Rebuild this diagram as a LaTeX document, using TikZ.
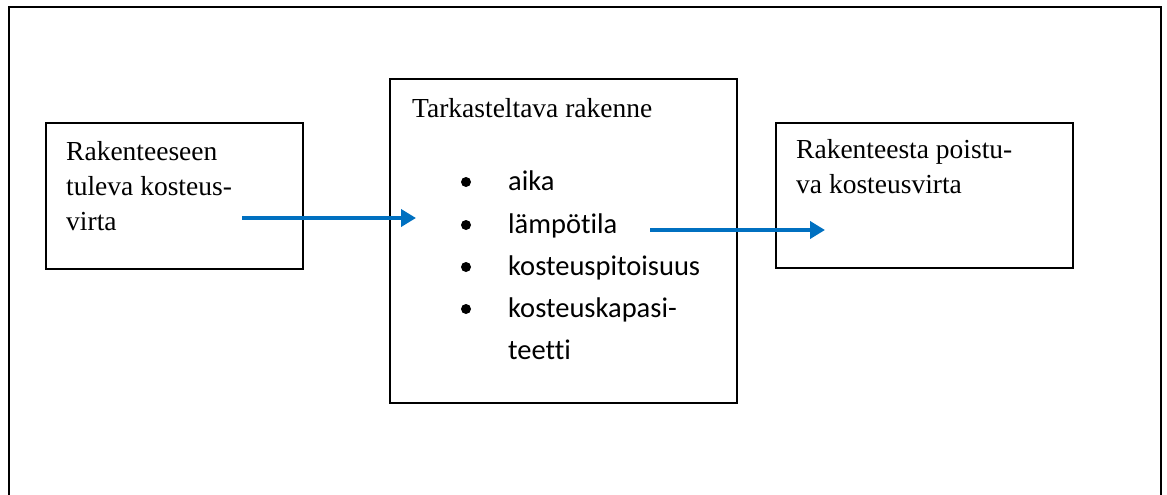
\documentclass[tikz,border=0pt]{standalone}
\usepackage{fontspec}
\newfontfamily\boxfont{Liberation Serif}
\newfontfamily\bulletfont[Ligatures=NoCommon]{Carlito}
\usetikzlibrary{arrows.meta}
\definecolor{flowblue}{HTML}{0070C0}
\tikzset{
  frameline/.style={draw=black, line width=2.2pt},
  boxline/.style={draw=black, line width=1.8pt},
  serif/.style={anchor=base west, inner sep=0pt, font=\boxfont\fontsize{27.5}{34}\selectfont},
  item/.style={anchor=base west, inner sep=0pt, font=\bulletfont\fontsize{28.5}{42}\selectfont},
  dot/.style={fill=black, circle, inner sep=0pt, minimum size=10pt},
  flow/.style={draw=flowblue, line width=4pt, -{Triangle[length=15pt, width=17pt]}},
}
\begin{document}
\begin{tikzpicture}[x=1pt,y=-1pt]
\useasboundingbox (0,0) rectangle (1167,495);
% outer frame (open at bottom)
\draw[frameline] (9,500) -- (9,7) -- (1161,7) -- (1161,500);
% boxes
\node[boxline, anchor=north west, minimum width=257pt, minimum height=146pt, inner sep=0pt] (inbox) at (45,122) {};
\node[boxline, anchor=north west, minimum width=347pt, minimum height=324pt, inner sep=0pt] (mid) at (389,78) {};
\node[boxline, anchor=north west, minimum width=297pt, minimum height=145pt, inner sep=0pt] (outbox) at (775,122) {};
% left text
\node[serif] (l1) at (66,160) {Rakenteeseen};
\node[serif] (l2) at (66,195) {tuleva kosteus-};
\node[serif] (l3) at (66,230) {virta};
% middle text
\node[serif] (mt) at (412,117) {Tarkasteltava rakenne};
\node[dot] (b1) at (466,182) {};
\node[dot] (b2) at (466,225) {};
\node[dot] (b3) at (466,267) {};
\node[dot] (b4) at (466,309) {};
\node[item] (i1) at (508,190) {aika};
\node[item] (i2) at (508,233) {lämpötila};
\node[item] (i3) at (508,275) {kosteuspitoisuus};
\node[item] (i4) at (508,317) {kosteuskapasi-};
\node[item] (i5) at (508,359) {teetti};
% right text
\node[serif] (r1) at (796,158) {Rakenteesta poistu-};
\node[serif] (r2) at (796,193) {va kosteusvirta};
% arrows
\coordinate (a1s) at (242,218);
\coordinate (a1e) at (416,218);
\coordinate (a2s) at (650,230);
\coordinate (a2e) at (825,230);
\draw[flow] (a1s) -- (a1e);
\draw[flow] (a2s) -- (a2e);
\end{tikzpicture}
\end{document}
